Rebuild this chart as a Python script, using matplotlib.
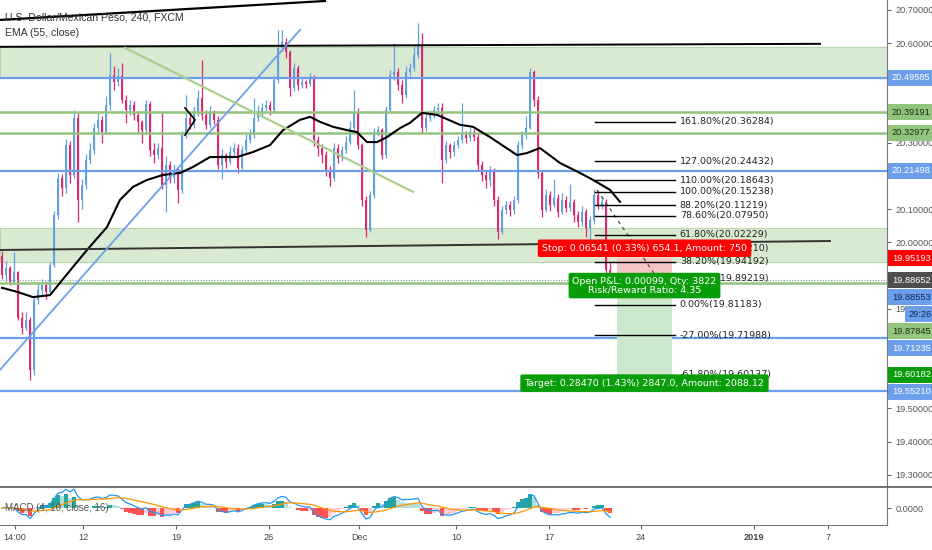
import numpy as np
import pandas as pd
import matplotlib
matplotlib.use('Agg')
import matplotlib.pyplot as plt
from matplotlib.patches import Rectangle
from matplotlib.lines import Line2D

plt.rcParams['font.family'] = ['Liberation Sans', 'DejaVu Sans']

# USD/MXN 4h candles, oldest first
first_open = 19.960
closes = [19.902, 19.923, 19.881, 19.911, 19.772, 19.742, 19.766, 19.616, 19.826, 19.857,
          19.872, 19.851, 19.932, 20.082, 20.194, 20.164, 20.293, 20.203, 20.375, 20.128,
          20.173, 20.248, 20.278, 20.345, 20.369, 20.332, 20.414, 20.504, 20.483, 20.501,
          20.429, 20.399, 20.414, 20.384, 20.363, 20.338, 20.417, 20.278, 20.263, 20.284,
          20.173, 20.233, 20.194, 20.218, 20.158, 20.323, 20.375, 20.354, 20.393, 20.435,
          20.384, 20.354, 20.393, 20.369, 20.233, 20.263, 20.242, 20.272, 20.284, 20.224,
          20.278, 20.308, 20.323, 20.375, 20.393, 20.405, 20.414, 20.399, 20.489, 20.585,
          20.604, 20.573, 20.465, 20.525, 20.474, 20.483, 20.477, 20.495, 20.308, 20.284,
          20.263, 20.218, 20.194, 20.284, 20.254, 20.278, 20.302, 20.345, 20.393, 20.293,
          20.128, 20.037, 20.143, 20.332, 20.338, 20.263, 20.399, 20.504, 20.513, 20.474,
          20.444, 20.513, 20.525, 20.564, 20.595, 20.345, 20.375, 20.387, 20.399, 20.405,
          20.248, 20.293, 20.272, 20.293, 20.308, 20.323, 20.314, 20.332, 20.317, 20.233,
          20.203, 20.188, 20.218, 20.128, 20.031, 20.098, 20.113, 20.098, 20.128, 20.293,
          20.323, 20.345, 20.513, 20.429, 20.209, 20.098, 20.143, 20.113, 20.134, 20.092,
          20.128, 20.104, 20.122, 20.082, 20.061, 20.092, 20.043, 20.067, 20.143, 20.113,
          20.122, 19.917, 19.8865]
highs = [19.975, 19.945, 19.930, 19.970, 19.915, 19.790, 19.790, 19.775, 19.835, 19.880,
         19.890, 19.885, 19.940, 20.095, 20.210, 20.205, 20.310, 20.305, 20.400, 20.390,
         20.190, 20.265, 20.300, 20.360, 20.390, 20.380, 20.440, 20.570, 20.530, 20.525,
         20.540, 20.445, 20.430, 20.425, 20.395, 20.370, 20.430, 20.425, 20.300, 20.300,
         20.395, 20.260, 20.245, 20.235, 20.225, 20.335, 20.445, 20.390, 20.410, 20.460,
         20.550, 20.400, 20.410, 20.400, 20.380, 20.280, 20.270, 20.290, 20.300, 20.295,
         20.290, 20.325, 20.340, 20.435, 20.415, 20.420, 20.430, 20.425, 20.500, 20.640,
         20.640, 20.615, 20.580, 20.540, 20.535, 20.495, 20.490, 20.510, 20.505, 20.320,
         20.295, 20.275, 20.230, 20.300, 20.295, 20.290, 20.320, 20.365, 20.460, 20.405,
         20.300, 20.140, 20.155, 20.345, 20.350, 20.345, 20.410, 20.520, 20.600, 20.525,
         20.490, 20.530, 20.540, 20.590, 20.660, 20.630, 20.390, 20.400, 20.410, 20.420,
         20.420, 20.305, 20.300, 20.305, 20.320, 20.420, 20.335, 20.345, 20.340, 20.325,
         20.245, 20.215, 20.230, 20.225, 20.140, 20.110, 20.125, 20.125, 20.140, 20.305,
         20.335, 20.380, 20.525, 20.520, 20.440, 20.215, 20.160, 20.155, 20.190, 20.145,
         20.150, 20.140, 20.175, 20.130, 20.095, 20.110, 20.100, 20.080, 20.160, 20.155,
         20.140, 20.130, 19.940]
lows = [19.890, 19.880, 19.870, 19.875, 19.765, 19.725, 19.735, 19.585, 19.600, 19.815,
        19.840, 19.830, 19.845, 19.925, 20.070, 20.140, 20.150, 20.180, 20.195, 20.060,
        20.100, 20.160, 20.235, 20.265, 20.330, 20.300, 20.325, 20.400, 20.460, 20.470,
        20.420, 20.360, 20.385, 20.370, 20.330, 20.300, 20.325, 20.260, 20.240, 20.250,
        20.160, 20.090, 20.180, 20.180, 20.120, 20.150, 20.315, 20.340, 20.345, 20.380,
        20.370, 20.340, 20.345, 20.355, 20.220, 20.190, 20.225, 20.235, 20.260, 20.210,
        20.215, 20.270, 20.300, 20.315, 20.365, 20.385, 20.395, 20.385, 20.390, 20.480,
        20.575, 20.555, 20.440, 20.455, 20.460, 20.465, 20.465, 20.470, 20.290, 20.260,
        20.240, 20.200, 20.170, 20.185, 20.240, 20.245, 20.270, 20.295, 20.335, 20.280,
        20.110, 20.015, 20.030, 20.135, 20.320, 20.250, 20.255, 20.390, 20.490, 20.460,
        20.420, 20.435, 20.500, 20.515, 20.555, 20.330, 20.335, 20.365, 20.375, 20.385,
        20.180, 20.240, 20.255, 20.260, 20.285, 20.300, 20.300, 20.305, 20.305, 20.215,
        20.185, 20.165, 20.170, 20.110, 20.010, 20.025, 20.085, 20.080, 20.085, 20.120,
        20.280, 20.310, 20.340, 20.410, 20.195, 20.075, 20.090, 20.095, 20.105, 20.075,
        20.085, 20.090, 20.095, 20.060, 20.045, 20.050, 20.015, 20.000, 20.055, 20.100,
        20.100, 19.880, 19.840]

# EMA(55) as seen on the chart (bar index, value)
ema_bars = [0, 3.75, 7.75, 12, 14.5, 17.75, 21.25, 26.25, 29.5, 32.75, 36.25, 40.25, 44.5,
            47.75, 52, 58.75, 62.75, 67, 70.25, 74.5, 77, 79.5, 82.75, 86.25, 88.75, 91.25,
            93.75, 96.25, 99.5, 102, 105, 108.75, 114.5, 117.75, 122, 128.75, 131.25, 134.5,
            139.5, 144.5, 147.75, 152, 154.5]
ema_vals = [19.863, 19.851, 19.835, 19.841, 19.878, 19.926, 19.977, 20.046, 20.128, 20.167,
            20.188, 20.203, 20.209, 20.227, 20.257, 20.257, 20.272, 20.293, 20.338, 20.369,
            20.378, 20.363, 20.348, 20.338, 20.332, 20.302, 20.302, 20.317, 20.344, 20.360,
            20.390, 20.384, 20.354, 20.348, 20.317, 20.263, 20.269, 20.284, 20.239, 20.209,
            20.188, 20.158, 20.122]

# horizontal levels and zones
blue_levels = [20.49585, 20.21498, 19.71235, 19.55210]
green_levels = [20.39191, 20.32977, 19.87845]
zones = [(20.49585, 20.589), (19.941, 20.043)]
last_price = 19.88652

# fibonacci extension
fib_levels = ['161.80%', '127.00%', '110.00%', '100.00%', '88.20%', '78.60%', '61.80%',
              '50.00%', '38.20%', '23.60%', '0.00%', '-27.00%', '-61.80%']
fib_prices = [20.36284, 20.24432, 20.18643, 20.15238, 20.11219, 20.07950, 20.02229,
              19.98210, 19.94192, 19.89219, 19.81183, 19.71988, 19.60137]

# short position tool
entry, stop, target = 19.88652, 19.95193, 19.60182

date_ticks = [3.25, 20.25, 43.5, 66.75, 89.25, 113.5, 136.75, 159.75, 188, 206.5]
date_labels = ['14:00', '12', '19', '26', 'Dec', '10', '17', '24', '2019', '7']

UP = '#64a0e0'
DOWN = '#e0286e'
BLUE_LINE = '#6d9eeb'
GREEN_LINE = '#93c47d'

fig = plt.figure(figsize=(9.32, 5.5), dpi=100)
ax = fig.add_axes([0, 63 / 550, 887 / 932, 487 / 550])
mx = fig.add_axes([0, 25 / 550, 887 / 932, 38 / 550])
XMIN, XMAX = -0.5, 221.25
ax.set_xlim(XMIN, XMAX)
ax.set_ylim(19.263, 20.730)
mx.set_xlim(XMIN, XMAX)

# zones and levels
for lo, hi in zones:
    ax.add_patch(Rectangle((XMIN, lo), XMAX - XMIN, hi - lo, fc='#d9ead3', ec='#b6d7a8',
                           lw=0.8, zorder=0.5))
for p in blue_levels:
    ax.axhline(p, color=BLUE_LINE, lw=1.6, zorder=3)
for p in green_levels:
    ax.axhline(p, color=GREEN_LINE, lw=1.8, zorder=3)
ax.axhline(last_price, color='#7a9a8a', lw=0.8, ls=(0, (1, 1.5)), zorder=3)

# candles
x = np.arange(len(closes))
c = np.array(closes)
o = np.array([first_open] + closes[:-1])
cols = np.where(c >= o, UP, DOWN)
ax.vlines(x, lows, highs, colors=cols, lw=0.9, zorder=2)
ax.bar(x, np.maximum(np.abs(c - o), 0.002), bottom=np.minimum(o, c), width=0.7,
       color=cols, linewidth=0, zorder=2.1)

# EMA
ax.plot(ema_bars, ema_vals, color='black', lw=1.5, zorder=4)

# drawn trend lines
ax.plot([-0.5, 80.75], [20.670, 20.727], color='black', lw=1.6, zorder=4)
ax.plot([-0.5, 204.5], [20.589, 20.598], color='black', lw=1.4, zorder=4)
ax.plot([-0.5, 207], [19.977, 20.004], color='#333333', lw=1.4, zorder=4)
ax.plot([-0.5, 74.5], [19.616, 20.640], color=BLUE_LINE, lw=1.3, zorder=4)
ax.plot([30.75, 102.75], [20.586, 20.152], color='#a8cf8e', lw=1.6, zorder=4)
ax.plot([45.75, 48.25, 45.75], [20.405, 20.369, 20.323], color='black', lw=1.2, zorder=4)

# fibonacci
fib_l, fib_r = 148.25, 168.25
ax.plot([148.75, 163.25], [20.158, 19.902], color='#555555', lw=0.9, ls=(0, (3, 3)), zorder=4)
for lvl, p in zip(fib_levels, fib_prices):
    ax.plot([fib_l, fib_r], [p, p], color='black', lw=1.0, zorder=4)
    ax.text(fib_r + 1.2, p, f'{lvl}({p:.5f})', fontsize=6.8, family='DejaVu Sans',
            color='#222222', va='center', ha='left', zorder=5)

# position tool
pos_l, pos_r = 153.75, 167.5
mid = (pos_l + pos_r) / 2
ax.add_patch(Rectangle((pos_l, entry), pos_r - pos_l, stop - entry, fc='#f6c6c6', ec='none', zorder=3.5))
ax.add_patch(Rectangle((pos_l, target), pos_r - pos_l, entry - target, fc='#cce8cc', ec='none', zorder=3.5))
box = dict(family='DejaVu Sans', fontsize=6.8, color='white', ha='center', zorder=12,
           textcoords='offset points')
ax.annotate(f'Stop: {stop - entry:.5f} (0.33%) 654.1, Amount: 750', xy=(mid, stop),
            xytext=(0, 4), va='bottom',
            bbox=dict(boxstyle='round,pad=0.45,rounding_size=0.2', fc='#ff0000', ec='none'), **box)
ax.annotate('Open P&L: 0.00099, Qty: 3822\nRisk/Reward Ratio: 4.35', xy=(mid, entry),
            xytext=(0, -4), va='center', linespacing=1.0,
            bbox=dict(boxstyle='round,pad=0.4,rounding_size=0.2', fc='#0a9d0a', ec='none'), **box)
ax.annotate(f'Target: {entry - target:.5f} (1.43%) 2847.0, Amount: 2088.12', xy=(mid, target),
            xytext=(0, -3), va='top',
            bbox=dict(boxstyle='round,pad=0.45,rounding_size=0.2', fc='#0a9d0a', ec='none'), **box)

# coloured price tags, stacked so they don't overlap
tags = [(20.49585, '20.49585', BLUE_LINE, 'white'),
        (20.39191, '20.39191', GREEN_LINE, '#1c2e12'),
        (20.32977, '20.32977', GREEN_LINE, '#1c2e12'),
        (20.21498, '20.21498', BLUE_LINE, 'white'),
        (stop, f'{stop:.5f}', '#ff0000', 'white'),
        (last_price, f'{last_price:.5f}', '#4d4d4d', 'white'),
        (19.88553, '19.88553', BLUE_LINE, '#0d2a55'),
        (19.88553, '29:26', BLUE_LINE, '#0d2a55'),
        (19.87845, '19.87845', GREEN_LINE, '#1c2e12'),
        (19.71235, '19.71235', BLUE_LINE, 'white'),
        (target, f'{target:.5f}', '#0a9d0a', 'white'),
        (19.55210, '19.55210', BLUE_LINE, 'white')]
ytr = ax.get_yaxis_transform()
tag_h = 16 / 332
prev = None
covered = []
for p, txt, bg, fg in tags:
    yd = ax.transData.transform((0, p))[1]
    if prev is not None:
        yd = min(yd, prev - 17)
    prev = yd
    yp = ax.transData.inverted().transform((0, yd))[1]
    if txt == '29:26':
        x0, w = 1.0 + 18 / 887, 27 / 887
    else:
        x0, w = 1.0 + 1 / 887, 45 / 887
        covered.append(yp)
    ax.add_patch(Rectangle((x0, yp - tag_h / 2), w, tag_h, transform=ytr, fc=bg, ec='none',
                           clip_on=False, zorder=19))
    ax.text(x0 + 4 / 887, yp, txt, transform=ytr, ha='left', va='center', fontsize=6.7,
            color=fg, clip_on=False, zorder=20)

# price scale (labels hidden where a tag sits on top of them)
yt = np.round(np.arange(19.3, 20.71, 0.1), 1)
ax.yaxis.tick_right()
ax.set_yticks(yt)
ax.set_yticklabels(['' if any(abs(t - cp) < 0.022 for cp in covered) else f'{t:.5f}' for t in yt])
ax.tick_params(axis='y', length=3, width=0.8, color='#666666', pad=3, labelsize=6.6,
               labelcolor='#555555')
ax.tick_params(axis='x', bottom=False, labelbottom=False)
for s in ['top', 'left', 'bottom']:
    ax.spines[s].set_visible(False)
ax.spines['right'].set_color('#777777')

# MACD pane
cs = pd.Series(closes)
macd = cs.ewm(span=4, adjust=False).mean() - cs.ewm(span=10, adjust=False).mean()
signal = macd.ewm(span=16, adjust=False).mean()
hist = macd - signal
prev_h = hist.shift(1).fillna(0)
hcols = np.where(hist >= 0, np.where(hist > prev_h, '#26a69a', '#b2dfdb'),
                 np.where(hist > prev_h, '#ffcdd2', '#ff5252'))
mx.bar(x, hist, width=0.9, color=hcols, linewidth=0, zorder=2)
mx.plot(x, macd, color='#2196f3', lw=0.9, zorder=3)
mx.plot(x, signal, color='#ff9800', lw=0.9, zorder=3)
k = np.percentile(np.abs(macd), 90) / 11
mx.set_ylim(-17 * k, 21 * k)
mx.yaxis.tick_right()
mx.set_yticks([0])
mx.set_yticklabels(['0.0000'])
mx.tick_params(axis='y', length=3, width=0.8, color='#666666', pad=3, labelsize=6.6,
               labelcolor='#555555')
mx.set_xticks(date_ticks)
mx.set_xticklabels(date_labels)
mx.tick_params(axis='x', length=3, width=0.8, color='#666666', pad=3, labelsize=6.6,
               labelcolor='#444444')
for lbl in mx.get_xticklabels():
    if lbl.get_text() == '2019':
        lbl.set_fontweight('bold')
mx.spines['top'].set_visible(False)
mx.spines['left'].set_visible(False)
mx.spines['right'].set_color('#777777')
mx.spines['bottom'].set_color('#777777')
mx.text(5 / 887, 0.45, 'MACD (4, 10, close, 16)', transform=mx.transAxes, fontsize=7,
        color='#555555', va='center', zorder=5)

# pane separator across the full width
fig.add_artist(Line2D([0, 1], [63 / 550, 63 / 550], color='#666666', lw=1.3))

fig.text(5 / 932, 1 - 17 / 550, 'U.S. Dollar/Mexican Peso, 240, FXCM', fontsize=7.6,
         color='#333333', va='center')
fig.text(5 / 932, 1 - 33 / 550, 'EMA (55, close)', fontsize=7.6, color='#333333', va='center')

fig.savefig('out.png', dpi=100, facecolor='white')
